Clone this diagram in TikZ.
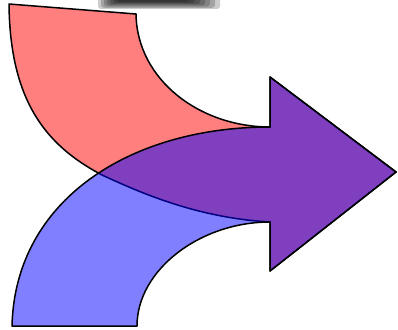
\documentclass[tikz,border=0pt]{standalone}
\usepackage{tikz}

\begin{document}
\begin{tikzpicture}[
  x=1pt,y=-1pt,
  line join=round,
  redarrow/.style={draw=black,line width=1.5pt,fill=red,fill opacity=0.5},
  bluearrow/.style={draw=black,line width=1.5pt,fill=blue,fill opacity=0.5},
  blur/.style={fill=black,opacity=0.2,rounded corners=3pt}
]
\useasboundingbox (0,0) rectangle (398,329);
% common head
\coordinate (headtop) at (270,77);
\coordinate (tip) at (396,172);
\coordinate (headbot) at (270,271);
\coordinate (shafttop) at (270,127);
\coordinate (shaftbot) at (270,222);
% shadow at the top
\foreach \i in {0,...,6}
  \fill[blur] (98+3*\i,-4) rectangle (220-5*\i,9-1.2*\i);
% red arrow
\path[redarrow] (9,4) -- (136,14) .. controls (137,80) and (200,127) .. (shafttop)
  -- (headtop) -- (tip) -- (headbot) -- (shaftbot)
  .. controls (200,218) and (145,195) .. (102,175)
  .. controls (45,145) and (10,100) .. cycle;
% blue arrow
\path[bluearrow] (12,326) -- (137,326) .. controls (137,270) and (200,222) .. (shaftbot)
  -- (headbot) -- (tip) -- (headtop) -- (shafttop)
  .. controls (130,127) and (15,200) .. cycle;
\end{tikzpicture}
\end{document}
